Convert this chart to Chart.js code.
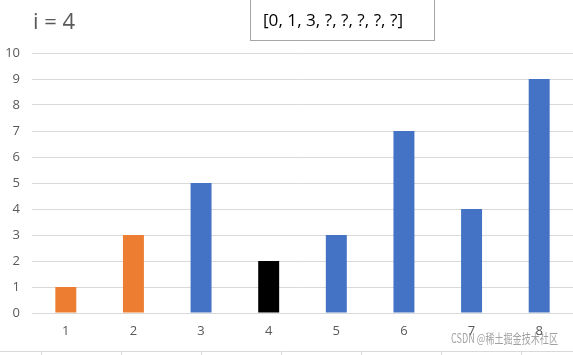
<!DOCTYPE html>
<html><head><meta charset="utf-8">
<script src="https://cdn.jsdelivr.net/npm/chart.js@4"></script>
<style>html,body{margin:0;padding:0;background:#fff}#wrap{width:573px;height:355px;position:relative}</style>
</head><body><div id="wrap"><canvas id="c" width="573" height="355"></canvas></div>
<script>
const categories = ["1","2","3","4","5","6","7","8"];
const values = [1, 3, 5, 2, 3, 7, 4, 9];
const barColors = ["#ED7D31","#ED7D31","#4472C4","#000000","#4472C4","#4472C4","#4472C4","#4472C4"];
const yTicks = [0,1,2,3,4,5,6,7,8,9,10];
const titleText = "i = 4";
const boxText = "[0, 1, 3, ?, ?, ?, ?, ?]";
const watermark = "CSDN @稀土掘金技术社区";

const deco = {
  id: 'deco',
  afterDraw(chart) {
    const ctx = chart.ctx;
    ctx.save();
    ctx.fillStyle = '#595959';
    ctx.font = '22px "Open Sans"';
    ctx.textBaseline = 'alphabetic';
    ctx.fillText(titleText, 33, 29);
    ctx.strokeStyle = '#a6a6a6';
    ctx.lineWidth = 1;
    ctx.strokeRect(250.5, -0.5, 184, 41);
    ctx.fillStyle = '#000';
    ctx.font = '17px "Open Sans"';
    const w = ctx.measureText(boxText).width;
    ctx.save();
    ctx.translate(263, 26);
    ctx.scale(140 / w, 1);
    ctx.fillText(boxText, 0, 0);
    ctx.restore();
    ctx.strokeStyle = '#d9d9d9';
    ctx.beginPath();
    ctx.moveTo(0, 351.5); ctx.lineTo(573, 351.5);
    for (let x = 41; x < 573; x += 80) { ctx.moveTo(x + 0.5, 351.5); ctx.lineTo(x + 0.5, 355); }
    ctx.stroke();
    ctx.fillStyle = 'rgba(100,100,100,0.6)';
    ctx.font = '13px "Noto Sans CJK SC"';
    const ww = ctx.measureText(watermark).width;
    ctx.save();
    ctx.translate(451, 343);
    ctx.scale(107 / ww, 1);
    ctx.fillText(watermark, 0, 0);
    ctx.restore();
    ctx.restore();
  }
};

new Chart(document.getElementById('c'), {
  type: 'bar',
  data: { labels: categories, datasets: [{ data: values, backgroundColor: barColors, barPercentage: 0.31, categoryPercentage: 1 }] },
  options: {
    responsive: false, animation: false,
    layout: { padding: { top: 53, left: 0, right: 0, bottom: 0 } },
    plugins: { legend: { display: false }, tooltip: { enabled: false } },
    scales: {
      x: {
        grid: { display: false, drawTicks: false },
        border: { display: false },
        ticks: { color: '#595959', font: { family: 'Open Sans', size: 13 }, padding: 10 },
        afterFit(s) { s.height = 42; }
      },
      y: {
        min: 0, max: 10,
        afterBuildTicks(s) { s.ticks = yTicks.map(v => ({ value: v })); },
        grid: { color: '#d9d9d9', drawTicks: false },
        border: { display: false },
        ticks: { color: '#595959', font: { family: 'Open Sans', size: 13 }, padding: 12 },
        afterFit(s) { s.width = 32; }
      }
    }
  },
  plugins: [deco]
});
</script></body></html>
